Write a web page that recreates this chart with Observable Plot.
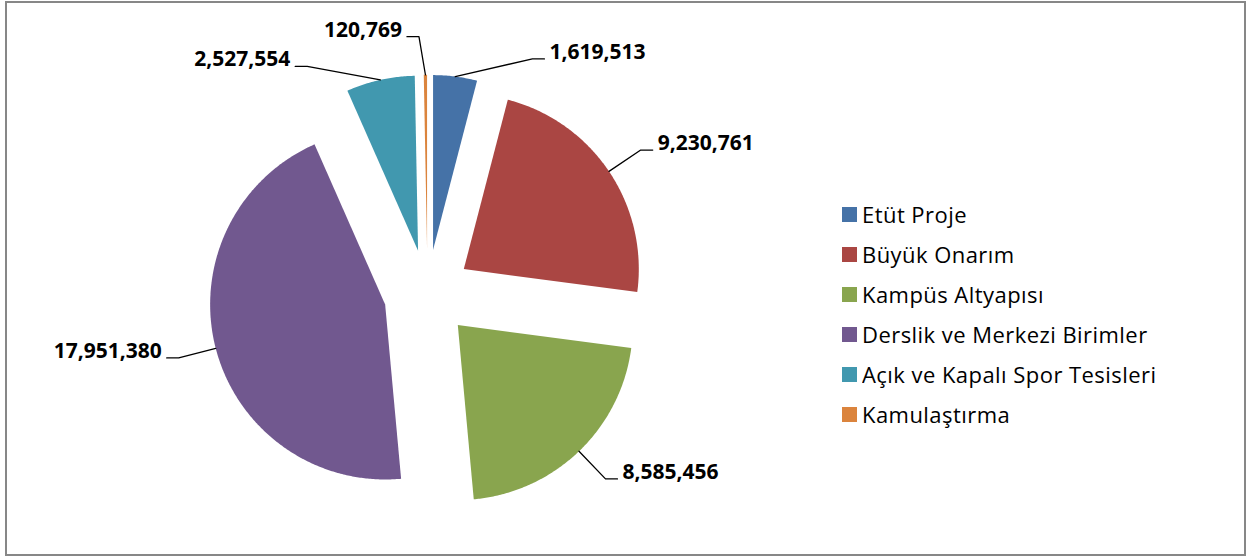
<!DOCTYPE html>
<html>
<head>
<meta charset="utf-8">
<script src="https://cdn.jsdelivr.net/npm/d3@7"></script>
<script src="https://cdn.jsdelivr.net/npm/@observablehq/plot@0.6"></script>
<style>
  body { margin: 0; background: #fff; }
  #wrap { position: relative; width: 1249px; height: 556px; overflow: hidden; background: #fff; }
  #frame { position: absolute; left: 5px; top: 1px; width: 1241px; height: 555px; box-sizing: border-box; border: 2px solid #878787; }
  #chart { position: absolute; left: 0; top: 0; }
  #legend { position: absolute; left: 842px; top: 194px; width: 400px; }
  #legend .lg-swatch { height: 40px; padding: 0 !important; margin: 0 !important; display: flex; align-items: center; letter-spacing: 0.45px; }
  #legend .lg-swatch svg { margin-right: 5px !important; }
  #legend .lg-swatches { margin: 0 !important; min-height: 0 !important; }
</style>
</head>
<body>
<div id="wrap">
  <div id="frame"></div>
  <div id="chart"></div>
  <div id="legend"></div>
</div>
<script>
// ---- data ----
const categories = [
  "Etüt Proje",
  "Büyük Onarım",
  "Kampüs Altyapısı",
  "Derslik ve Merkezi Birimler",
  "Açık ve Kapalı Spor Tesisleri",
  "Kamulaştırma"
];
const values = [1619513, 9230761, 8585456, 17951380, 2527554, 120769];
const colors = ["#4572A7", "#AA4643", "#89A54E", "#71588F", "#4198AF", "#DB843D"];

// ---- layout ----
const W = 1249, H = 556;
const CX = 427, CY = 293, R = 175;       // pie centre and radius (px)
const EXPLODE = 0.25;                     // explosion, fraction of radius
const LABEL_R = 257 / R, TAIL = 12 / R, GAP = 5 / R, MIN_SEP = 26;
const FONT = "'Open Sans', 'Liberation Sans', sans-serif";

const rows = categories.map((c, i) => ({category: c, value: values[i]}));
const arcs = d3.pie().sort(null).value(d => d.value)(rows);

// slice polygons (unit radius, y up)
const slicePts = [];
arcs.forEach(p => {
  const m = (p.startAngle + p.endAngle) / 2;
  const ax = EXPLODE * Math.sin(m), ay = EXPLODE * Math.cos(m);
  const cat = p.data.category;
  slicePts.push({category: cat, x: ax, y: ay});
  const n = Math.max(2, Math.ceil((p.endAngle - p.startAngle) / (Math.PI / 360)));
  for (let i = 0; i <= n; i++) {
    const t = p.startAngle + (p.endAngle - p.startAngle) * i / n;
    slicePts.push({category: cat, x: ax + Math.sin(t), y: ay + Math.cos(t)});
  }
});

// label angles, spread apart where crowded
const ang = arcs.map(p => {
  let d = (p.startAngle + p.endAngle) / 2 * 180 / Math.PI;
  return d > 180 ? d - 360 : d;
});
const order = d3.range(ang.length).sort((a, b) => ang[a] - ang[b]);
for (let it = 0; it < 300; it++) {
  for (let k = 0; k < order.length - 1; k++) {
    const i = order[k], j = order[k + 1];
    const g = ang[j] - ang[i];
    if (g < MIN_SEP) { const s = (MIN_SEP - g) / 2; ang[i] -= s; ang[j] += s; }
  }
}

const leaderPts = [];
const labels = [];
arcs.forEach((p, i) => {
  const m = (p.startAngle + p.endAngle) / 2;
  const a = ang[i] * Math.PI / 180;
  const side = Math.sin(a) >= 0 ? 1 : -1;
  const cat = p.data.category;
  const ex = LABEL_R * Math.sin(a), ey = LABEL_R * Math.cos(a);
  leaderPts.push({category: cat, x: (1 + EXPLODE) * Math.sin(m), y: (1 + EXPLODE) * Math.cos(m)});
  leaderPts.push({category: cat, x: ex, y: ey});
  leaderPts.push({category: cat, x: ex + side * TAIL, y: ey});
  labels.push({category: cat, side, x: ex + side * (TAIL + GAP), y: ey, text: d3.format(",")(p.data.value)});
});

const chart = Plot.plot({
  width: W, height: H,
  margin: 0,
  x: {domain: [-CX / R, (W - CX) / R], range: [0, W], axis: null},
  y: {domain: [-(H - CY) / R, CY / R], range: [H, 0], axis: null},
  color: {domain: categories, range: colors},
  style: {background: "transparent", fontFamily: FONT},
  marks: [
    Plot.line(slicePts, {x: "x", y: "y", z: "category", fill: "category", stroke: "none", curve: "linear"}),
    Plot.line(leaderPts, {x: "x", y: "y", z: "category", stroke: "#000", strokeWidth: 1.3, curve: "linear"}),
    Plot.text(labels.filter(d => d.side > 0), {x: "x", y: "y", text: "text", textAnchor: "start", lineAnchor: "bottom", fontSize: 21, fontWeight: "bold", fill: "#000"}),
    Plot.text(labels.filter(d => d.side < 0), {x: "x", y: "y", text: "text", textAnchor: "end", lineAnchor: "bottom", fontSize: 21, fontWeight: "bold", fill: "#000"})
  ]
});
document.getElementById("chart").appendChild(chart);

const legend = Plot.legend({
  color: {type: "ordinal", domain: categories, range: colors},
  legend: "swatches",
  columns: 1,
  swatchSize: 15,
  className: "lg",
  style: {fontFamily: FONT, fontSize: "22px", color: "#000"}
});
document.getElementById("legend").appendChild(legend);
</script>
</body>
</html>
